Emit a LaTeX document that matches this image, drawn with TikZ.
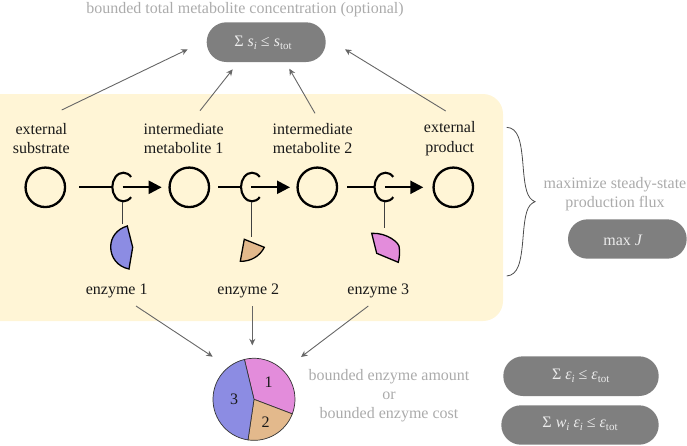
\documentclass[tikz,border=0pt]{standalone}
\usepackage{fontspec}
\setmainfont{Liberation Serif}
\usetikzlibrary{arrows.meta}
\definecolor{boxyellow}{HTML}{FFF5D6}
\definecolor{pillgray}{HTML}{7F7F7F}
\definecolor{captiongray}{HTML}{ABABAB}
\definecolor{linkgray}{HTML}{666666}
\definecolor{enzblue}{HTML}{8C8CE3}
\definecolor{enzorange}{HTML}{E3B98C}
\definecolor{enzpink}{HTML}{E38CDB}
\newcommand{\lowsub}[1]{\raisebox{-3pt}{\fontsize{11}{11}\selectfont #1}}
\tikzset{
  x=1pt,y=-1pt,
  txt/.style={font=\fontsize{16}{19.3}\selectfont,inner sep=0pt,align=center,text=black!90},
  lab/.style={txt,anchor=base},
  captxt/.style={txt,anchor=base,text=captiongray},
  met/.style={circle,draw=black,line width=2.3pt,minimum size=39.5pt,inner sep=0pt},
  pill/.style={fill=pillgray,rounded corners=19.7pt},
  pilltxt/.style={font=\fontsize{16}{19}\selectfont,inner sep=0pt,anchor=base,text=white!92!black},
  react/.style={line width=2.3pt,black},
  flow/.style={react,-{Triangle[length=13pt,width=13pt]}},
  stem/.style={line width=1pt,black!75},
  enz/.style={draw=black,line width=1.3pt,line join=miter},
  link/.style={draw=linkgray,line width=.9pt,-{Stealth[length=6.5pt,width=6pt]}},
  piece/.style={draw=black!80,line width=.7pt},
}
\begin{document}
\begin{tikzpicture}
\useasboundingbox (0,0) rectangle (687,445);
% yellow panel
\fill[boxyellow,rounded corners=20pt] (-25,94) rectangle (503,321);
% metabolites
\node[met] (m1) at (45.3,187.3) {};
\node[met] (m2) at (189.3,187.3) {};
\node[met] (m3) at (317.3,187.3) {};
\node[met] (m4) at (453.3,187.3) {};
% enzyme C-shaped symbols
\foreach \n/\cx in {1/123.3,2/252,3/385.5}{
  \draw[line width=2.1pt] (\cx+7.8,187-10.1) arc[start angle=45,end angle=315,x radius=11pt,y radius=14.3pt];
  \coordinate (c\n) at (\cx-11,187.3);
  \coordinate (a\n) at (\cx-0.6,187.3);
  \coordinate (b\n) at (\cx-0.6,201.5);
}
% reaction lines
\coordinate (r1) at (79.3,187.3);
\coordinate (r2) at (218.3,187.3);
\coordinate (r3) at (347.3,187.3);
\coordinate (t1) at (161.7,187.3);
\coordinate (t2) at (290,187.3);
\coordinate (t3) at (423.3,187.3);
\draw[react] (r1) -- (c1);
\draw[react] (r2) -- (c2);
\draw[react] (r3) -- (c3);
\draw[flow] (a1) -- (t1);
\draw[flow] (a2) -- (t2);
\draw[flow] (a3) -- (t3);
% stems
\coordinate (e1) at (122.7,224);
\coordinate (e2) at (251.4,236.7);
\coordinate (e3) at (384.9,228);
\draw[stem] (b1) -- (e1);
\draw[stem] (b2) -- (e2);
\draw[stem] (b3) -- (e3);
% enzymes
\draw[enz,fill=enzblue] (127.3,226) -- (132.7,247.3) -- (129,269)
  .. controls (117,266.5) and (110.7,257) .. (110.7,247)
  .. controls (110.7,237) and (117,229) .. (127.3,226) -- cycle;
\draw[enz,fill=enzorange] (244.3,239.3) -- (264.3,247.3)
  .. controls (260,256) and (251,261.5) .. (240.3,261.3) -- cycle;
\draw[enz,fill=enzpink] (371.7,233.3)
  .. controls (387,232.5) and (400,243) .. (399.3,248)
  .. controls (400,253) and (399.3,258) .. (398.3,262.3)
  -- (376.7,253.3) -- cycle;
% labels
\node[txt] (l1) at (41.3,138.5) {external\\substrate};
\node[txt] (l2) at (183.7,138.5) {intermediate\\metabolite 1};
\node[txt] (l3) at (312.7,138.5) {intermediate\\metabolite 2};
\node[txt] (l4) at (449.7,138.5) {external\\product};
\node[lab] (n1) at (116.7,294) {enzyme 1};
\node[lab] (n2) at (248.3,294) {enzyme 2};
\node[lab] (n3) at (378.3,294) {enzyme 3};
% pie
\coordinate (pc) at (254,399.3);
\filldraw[piece,fill=enzpink] (pc) -- (244.4,359.4) arc[start angle=103.5,end angle=-20.8,radius=41pt] -- cycle;
\filldraw[piece,fill=enzorange] (pc) -- (292.3,413.9) arc[start angle=-20.8,end angle=-98.4,radius=41pt] -- cycle;
\filldraw[piece,fill=enzblue] (pc) -- (248,439.9) arc[start angle=261.6,end angle=103.5,radius=41pt] -- cycle;
\node[lab] (p1) at (268.5,387.5) {1};
\node[lab] (p2) at (265.7,427) {2};
\node[lab] (p3) at (234,404.5) {3};
% top pill
\fill[pill] (206.7,22.3) rectangle (325.7,62);
\node[pilltxt] (tp) at (263,46) {Σ \textit{s}\lowsub{\textit{i}} ≤ \textit{s}\lowsub{tot}};
% max J pill
\fill[pill] (568,219.3) rectangle (686.7,258.7);
\node[pilltxt] (mj) at (623,245) {max \textit{J}};
% enzyme pills
\fill[pill] (503.3,356.3) rectangle (658.7,396);
\node[pilltxt] (ep) at (580.7,379) {Σ \textit{ε}\lowsub{\textit{i}} ≤ \textit{ε}\lowsub{tot}};
\fill[pill] (501.3,405.3) rectangle (658.7,444.7);
\node[pilltxt] (wp) at (580,427) {Σ \textit{w}\lowsub{\textit{i}} \textit{ε}\lowsub{\textit{i}} ≤ \textit{ε}\lowsub{tot}};
% captions
\node[captxt] (c0) at (245,13) {bounded total metabolite concentration (optional)};
\node[captxt] (c1a) at (615,188) {maximize steady-state};
\node[captxt] (c1b) at (615,207) {production flux};
\node[captxt] (c2a) at (389,380) {bounded enzyme amount};
\node[captxt] (c2b) at (389,399) {or};
\node[captxt] (c2c) at (389,418.7) {bounded enzyme cost};
% links
\coordinate (u1) at (61.7,110);
\coordinate (u2) at (200,110.7);
\coordinate (u3) at (315,113.3);
\coordinate (u4) at (445.7,111);
\coordinate (v1) at (187.7,49.3);
\coordinate (v2) at (232.7,69.3);
\coordinate (v3) at (289.3,68.7);
\coordinate (v4) at (345,49.3);
\draw[link] (u1) -- (v1);
\draw[link] (u2) -- (v2);
\draw[link] (u3) -- (v3);
\draw[link] (u4) -- (v4);
\coordinate (w1) at (136,306);
\coordinate (w2) at (252.3,306);
\coordinate (w3) at (368.3,306);
\coordinate (z1) at (212.7,356.7);
\coordinate (z2) at (252.3,345.3);
\coordinate (z3) at (301,357);
\draw[link] (w1) -- (z1);
\draw[link] (w2) -- (z2);
\draw[link] (w3) -- (z3);
% brace
\coordinate (b0) at (506.7,127.3);
\coordinate (bt) at (535,201.7);
\coordinate (be) at (506.7,276);
\draw[line width=.8pt,black!70] (b0) .. controls (518,128) and (521,140) .. (523,165)
  .. controls (525,190) and (527,198) .. (bt)
  .. controls (527,205) and (525,213) .. (523,238)
  .. controls (521,263) and (518,275) .. (be);
\end{tikzpicture}
\end{document}
